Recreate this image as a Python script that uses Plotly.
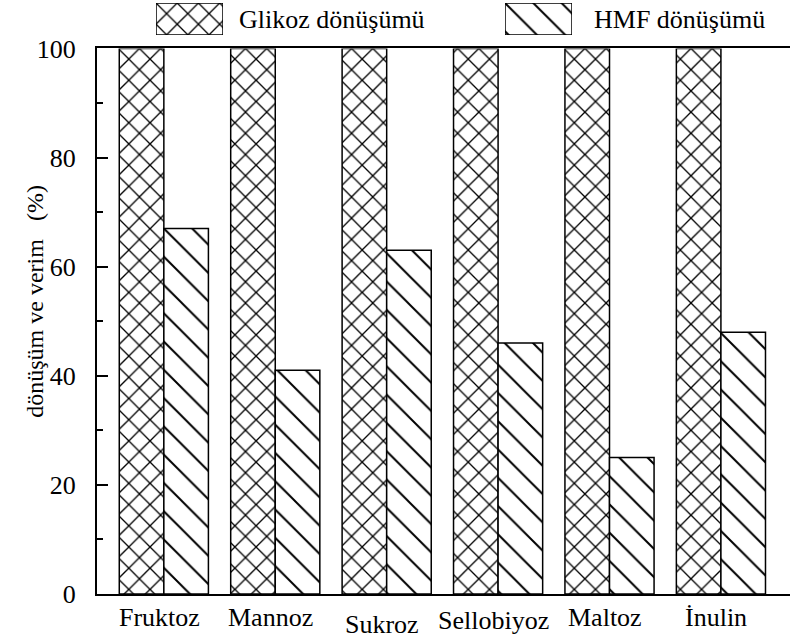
import plotly.graph_objects as go

# Substrates and conversion / yield values (%)
categories = ["Fruktoz", "Mannoz", "Sukroz", "Sellobiyoz", "Maltoz", "İnulin"]
glucose_conversion = [100, 100, 100, 100, 100, 100]
hmf_conversion = [67, 41, 63, 46, 25, 48]
series_names = ["Glikoz dönüşümü", "HMF dönüşümü"]
y_ticks = [0, 20, 40, 60, 80, 100]

FONT = "'Liberation Serif', 'Times New Roman', serif"
W, H = 790, 642
M_L, M_B = 97, 47.5
plot_h_px = 546
paper_h = H - M_B  # margin top is 0

def py_to_paper(py):
    return (paper_h - py) / paper_h

def px_to_paper(px):
    return (px - M_L) / (W - M_L)

pat_x = dict(shape="x", size=15, solidity=0.17, fgcolor="black", bgcolor="white", fgopacity=1)
pat_d = dict(shape="\\", size=20, solidity=0.1, fgcolor="black", bgcolor="white", fgopacity=1)
outline = dict(color="black", width=1.5)

fig = go.Figure()
fig.add_trace(go.Bar(x=list(range(len(categories))), y=glucose_conversion, name=series_names[0],
                     marker=dict(color="white", pattern=pat_x, line=outline), showlegend=False))
fig.add_trace(go.Bar(x=list(range(len(categories))), y=hmf_conversion, name=series_names[1],
                     marker=dict(color="white", pattern=pat_d, line=outline), showlegend=False))

# legend swatches drawn as single bars on small helper axes
fig.add_trace(go.Bar(x=[0], y=[1], width=[1], offset=-0.5, xaxis="x2", yaxis="y2",
                     marker=dict(color="white", pattern=pat_x, line=outline), showlegend=False,
                     hoverinfo="skip"))
fig.add_trace(go.Bar(x=[0], y=[1], width=[1], offset=-0.5, xaxis="x3", yaxis="y3",
                     marker=dict(color="white", pattern=pat_d, line=outline), showlegend=False,
                     hoverinfo="skip"))

main_top = plot_h_px / paper_h
leg_y = [py_to_paper(35), py_to_paper(3)]

hidden = dict(visible=False, fixedrange=True)
fig.update_layout(
    width=W, height=H,
    margin=dict(l=M_L, r=0, t=0, b=M_B, autoexpand=False),
    paper_bgcolor="white", plot_bgcolor="white",
    barmode="group", bargap=0.2, bargroupgap=0,
    font=dict(family=FONT, size=26, color="black"),
    xaxis=dict(domain=[0, 1], range=[-0.6, 5.62], showline=True, mirror=True,
               linecolor="black", linewidth=2, showticklabels=False, ticks="",
               showgrid=False, zeroline=False),
    yaxis=dict(domain=[0, main_top], range=[0, 100], tickvals=y_ticks, ticks="inside",
               ticklen=11, tickwidth=1.5, tickcolor="black", showline=True, linecolor="black",
               linewidth=2, showgrid=False, zeroline=False, ticklabelstandoff=14,
               tickfont=dict(family=FONT, size=26),
               minor=dict(dtick=10, tick0=0, ticks="inside", ticklen=6, tickwidth=1.5,
                          tickcolor="black", showgrid=False)),
    xaxis2=dict(domain=[px_to_paper(156), px_to_paper(223)], range=[-0.5, 0.5], anchor="y2", **hidden),
    yaxis2=dict(domain=leg_y, range=[0, 1], anchor="x2", **hidden),
    xaxis3=dict(domain=[px_to_paper(505), px_to_paper(572)], range=[-0.5, 0.5], anchor="y3", **hidden),
    yaxis3=dict(domain=leg_y, range=[0, 1], anchor="x3", **hidden),
)

# legend texts
for name, px in zip(series_names, [237, 592]):
    fig.add_annotation(text=name, xref="paper", yref="paper", x=px_to_paper(px), y=py_to_paper(20),
                       xanchor="left", yanchor="middle", showarrow=False,
                       font=dict(family=FONT, size=26, color="black"))

# category labels under each group
label_drop = [0, 0, 7, 3, 0, 0]
for i, (cat, d) in enumerate(zip(categories, label_drop)):
    fig.add_annotation(text=cat, x=i - 0.04, xref="x", y=0, yref="y", yanchor="top",
                       yshift=-7 - d, showarrow=False,
                       font=dict(family=FONT, size=26, color="black"))

# y-axis title
fig.add_annotation(text="dönüşüm ve verim   (%)", xref="paper", yref="paper",
                   x=px_to_paper(35), y=py_to_paper(302), textangle=-90,
                   xanchor="center", yanchor="middle", showarrow=False,
                   font=dict(family=FONT, size=24, color="black"))

fig.write_html("out.html")
